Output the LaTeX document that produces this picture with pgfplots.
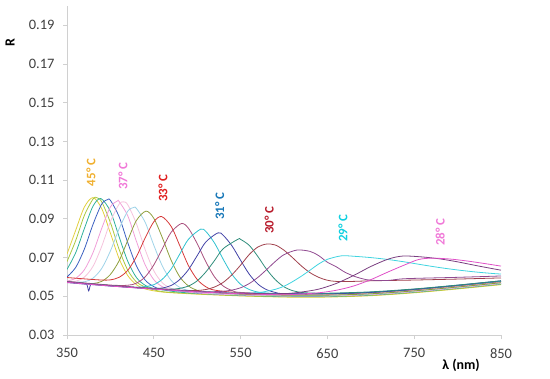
\documentclass[border=0pt]{standalone}
\usepackage{fontspec}
\setmainfont{Carlito}
\usepackage{pgfplots}
\pgfplotsset{compat=1.18}
\definecolor{c1}{HTML}{E2CF3E}
\definecolor{c2}{HTML}{A9C83F}
\definecolor{c3}{HTML}{2FB09C}
\definecolor{c4}{HTML}{3A5FC0}
\definecolor{c5}{HTML}{F09ED8}
\definecolor{c6}{HTML}{F5C2DC}
\definecolor{c7}{HTML}{9ED3E8}
\definecolor{c8}{HTML}{8E9E3C}
\definecolor{c9}{HTML}{D63A3A}
\definecolor{c10}{HTML}{A8507E}
\definecolor{c11}{HTML}{30C2D0}
\definecolor{c12}{HTML}{4242A6}
\definecolor{c13}{HTML}{2E8C7A}
\definecolor{c14}{HTML}{A0404C}
\definecolor{c15}{HTML}{904A90}
\definecolor{c16}{HTML}{40D4E0}
\definecolor{c17}{HTML}{7A3E80}
\definecolor{c18}{HTML}{E050C8}
\definecolor{l45}{HTML}{F0B030}
\definecolor{l37}{HTML}{F07AD8}
\definecolor{l33}{HTML}{E02020}
\definecolor{l31}{HTML}{1878B8}
\definecolor{l30}{HTML}{B81C2C}
\definecolor{l29}{HTML}{10D0E0}
\definecolor{l28}{HTML}{F07AD8}
\definecolor{axgray}{HTML}{D0D0D0}
\definecolor{txt}{HTML}{404040}
\begin{document}
\begin{tikzpicture}
\useasboundingbox (-67bp,-44bp) rectangle (483bp,335bp);
\begin{axis}[
  at={(0,0)}, anchor=south west,
  scale only axis, width=434bp, height=329bp,
  xmin=350, xmax=850, ymin=0.03, ymax=0.2,
  xtick={350,450,550,650,750,850},
  ytick={0.03,0.05,0.07,0.09,0.11,0.13,0.15,0.17,0.19},
  axis lines*=left,
  axis line style={draw=axgray, line width=0.9pt},
  tick style={draw=axgray, line width=0.9pt},
  tick align=outside, major tick length=4bp,
  /pgf/number format/assume math mode=true,
  ticklabel style={font=\fontsize{14.5}{16}\selectfont, text=txt},
  yticklabel style={xshift=-5bp, /pgf/number format/.cd, fixed, fixed zerofill, precision=2},
  xticklabel style={yshift=-6bp, /pgf/number format/.cd, fixed, precision=0, 1000 sep={}},
  xlabel={\bfseries λ (nm)},
  ylabel={\bfseries R},
  xlabel style={at={(axis description cs:0.908,-0.091)}, anchor=center, font=\fontsize{14}{16}\selectfont, text=black},
  ylabel style={at={(axis description cs:-0.131,0.89)}, anchor=center, font=\fontsize{14}{16}\selectfont, text=black},
  every axis plot/.append style={no markers, smooth, line width=0.8pt},
  clip=true,
]
% 1
\addplot[c1] coordinates {(350,0.0718)(360,0.0841)(370,0.0961)(380,0.1010)(390,0.0953)(400,0.0826)(410,0.0695)(420,0.0607)(430,0.0560)(440,0.0538)(460,0.0522)(500,0.0511)(550,0.0502)(600,0.0496)(650,0.0496)(700,0.0503)(750,0.0518)(800,0.0538)(850,0.0560)};
% 2
\addplot[c2] coordinates {(350,0.0679)(360,0.0788)(370,0.0918)(380,0.1003)(384,0.1010)(390,0.0988)(400,0.0881)(410,0.0743)(420,0.0635)(430,0.0574)(440,0.0549)(460,0.0524)(500,0.0513)(550,0.0503)(600,0.0498)(650,0.0498)(700,0.0505)(750,0.0520)(800,0.0540)(850,0.0562)};
% 3
\addplot[c3] coordinates {(350,0.0639)(360,0.0725)(370,0.0850)(380,0.0966)(389,0.1005)(400,0.0939)(410,0.0808)(420,0.0681)(430,0.0597)(440,0.0557)(450,0.0541)(480,0.0521)(520,0.0511)(560,0.0504)(600,0.0500)(650,0.0500)(700,0.0507)(750,0.0522)(800,0.0542)(850,0.0564)};
% 4
\addplot[c4] coordinates {(350,0.0600)(360,0.0649)(370,0.0744)(380,0.0872)(390,0.0977)(397,0.1000)(400,0.0996)(410,0.0912)(420,0.0777)(430,0.0657)(440,0.0584)(450,0.0550)(460,0.0537)(500,0.0519)(550,0.0509)(600,0.0504)(650,0.0504)(700,0.0511)(750,0.0526)(800,0.0546)(850,0.0568)};
% 5
\addplot[c5] coordinates {(350,0.0579)(360,0.0593)(370,0.0637)(380,0.0726)(390,0.0851)(400,0.0962)(408,0.0992)(410,0.0990)(420,0.0916)(430,0.0784)(440,0.0663)(450,0.0586)(460,0.0549)(470,0.0535)(500,0.0517)(550,0.0507)(600,0.0502)(650,0.0502)(700,0.0509)(750,0.0524)(800,0.0544)(850,0.0566)};
% 6
\addplot[c6] coordinates {(350,0.0574)(360,0.0578)(370,0.0599)(380,0.0655)(390,0.0758)(400,0.0886)(410,0.0976)(415,0.0988)(420,0.0973)(430,0.0875)(440,0.0742)(450,0.0632)(460,0.0569)(470,0.0541)(480,0.0531)(520,0.0514)(560,0.0507)(600,0.0503)(650,0.0503)(700,0.0510)(750,0.0525)(800,0.0545)(850,0.0567)};
% 7
\addplot[c7] coordinates {(350,0.0573)(370,0.0575)(380,0.0594)(390,0.0644)(400,0.0734)(410,0.0848)(420,0.0940)(427,0.0959)(430,0.0954)(440,0.0883)(450,0.0764)(460,0.0655)(470,0.0582)(480,0.0546)(490,0.0531)(520,0.0516)(560,0.0509)(600,0.0505)(650,0.0505)(700,0.0512)(750,0.0527)(800,0.0547)(850,0.0569)};
% 8
\addplot[c8] coordinates {(350,0.0574)(370,0.0566)(380,0.0566)(390,0.0577)(400,0.0613)(410,0.0683)(420,0.0789)(430,0.0892)(441,0.0940)(450,0.0903)(460,0.0801)(470,0.0686)(480,0.0600)(490,0.0553)(500,0.0531)(510,0.0523)(550,0.0511)(600,0.0506)(650,0.0506)(700,0.0513)(750,0.0528)(800,0.0548)(850,0.0570)};
% 9
\addplot[c9] coordinates {(350,0.0597)(370,0.0590)(390,0.0584)(400,0.0585)(410,0.0598)(420,0.0634)(430,0.0705)(440,0.0801)(450,0.0885)(459,0.0912)(470,0.0861)(480,0.0761)(490,0.0658)(500,0.0587)(510,0.0549)(520,0.0532)(550,0.0518)(600,0.0512)(650,0.0512)(700,0.0519)(750,0.0534)(800,0.0554)(850,0.0576)};
% 10
\addplot[c10] coordinates {(350,0.0577)(400,0.0558)(420,0.0557)(430,0.0568)(440,0.0600)(450,0.0662)(460,0.0747)(470,0.0831)(482,0.0876)(490,0.0851)(500,0.0772)(510,0.0678)(520,0.0600)(530,0.0553)(540,0.0530)(550,0.0520)(600,0.0512)(650,0.0513)(700,0.0520)(750,0.0535)(800,0.0555)(850,0.0577)};
% 11
\addplot[c11] coordinates {(350,0.0575)(400,0.0556)(420,0.0549)(430,0.0547)(440,0.0550)(450,0.0560)(460,0.0589)(470,0.0641)(480,0.0719)(490,0.0795)(504,0.0847)(510,0.0835)(520,0.0775)(530,0.0691)(540,0.0614)(550,0.0562)(560,0.0535)(570,0.0522)(580,0.0517)(600,0.0514)(650,0.0514)(700,0.0521)(750,0.0536)(800,0.0556)(850,0.0578)};
% 12
\addplot[c12] coordinates {(350,0.0571)(370,0.0563)(373,0.0560)(375,0.0528)(377,0.0558)(380,0.0560)(400,0.0553)(440,0.0541)(450,0.0540)(460,0.0543)(470,0.0556)(480,0.0587)(490,0.0638)(500,0.0710)(510,0.0781)(524,0.0828)(530,0.0815)(540,0.0761)(550,0.0686)(560,0.0614)(570,0.0563)(580,0.0534)(590,0.0520)(600,0.0514)(650,0.0513)(700,0.0520)(750,0.0536)(800,0.0557)(850,0.0580)};
% 13
\addplot[c13] coordinates {(350,0.0574)(400,0.0555)(450,0.0539)(470,0.0537)(480,0.0541)(490,0.0553)(500,0.0580)(510,0.0626)(520,0.0685)(530,0.0746)(547,0.0795)(550,0.0794)(560,0.0763)(570,0.0705)(580,0.0639)(590,0.0586)(600,0.0549)(610,0.0529)(620,0.0520)(630,0.0517)(650,0.0516)(700,0.0523)(750,0.0538)(800,0.0558)(850,0.0580)};
% 14
\addplot[c14] coordinates {(350,0.0575)(400,0.0556)(450,0.0540)(470,0.0534)(490,0.0530)(500,0.0530)(510,0.0535)(520,0.0548)(530,0.0572)(540,0.0611)(550,0.0661)(560,0.0716)(570,0.0755)(580,0.0770)(590,0.0765)(600,0.0738)(610,0.0699)(620,0.0657)(630,0.0622)(640,0.0598)(650,0.0583)(660,0.0577)(680,0.0577)(700,0.0580)(750,0.0584)(800,0.0589)(850,0.0595)};
% 15
\addplot[c15] coordinates {(350,0.0574)(400,0.0555)(450,0.0539)(500,0.0525)(520,0.0524)(530,0.0526)(540,0.0532)(550,0.0544)(560,0.0566)(570,0.0598)(580,0.0638)(590,0.0680)(600,0.0715)(615,0.0739)(630,0.0732)(640,0.0710)(650,0.0676)(660,0.0653)(670,0.0625)(680,0.0605)(690,0.0591)(700,0.0583)(720,0.0582)(740,0.0591)(800,0.0598)(850,0.0605)};
% 16
\addplot[c16] coordinates {(350,0.0573)(400,0.0554)(450,0.0538)(500,0.0524)(550,0.0516)(570,0.0519)(580,0.0526)(590,0.0536)(600,0.0552)(610,0.0576)(620,0.0604)(630,0.0635)(640,0.0667)(650,0.0691)(666,0.0709)(680,0.0707)(700,0.0700)(720,0.0690)(740,0.0677)(760,0.0662)(780,0.0648)(800,0.0636)(820,0.0626)(840,0.0618)(850,0.0615)};
% 17
\addplot[c17] coordinates {(350,0.0574)(400,0.0555)(450,0.0539)(500,0.0525)(550,0.0515)(600,0.0514)(620,0.0522)(640,0.0537)(660,0.0566)(680,0.0607)(700,0.0654)(720,0.0692)(737,0.0708)(760,0.0703)(780,0.0693)(800,0.0678)(820,0.0660)(840,0.0643)(850,0.0635)};
% 18
\addplot[c18] coordinates {(350,0.0572)(400,0.0553)(450,0.0537)(500,0.0523)(550,0.0513)(600,0.0508)(620,0.0512)(640,0.0518)(660,0.0531)(680,0.0553)(700,0.0586)(720,0.0626)(740,0.0664)(755,0.0690)(770,0.0697)(790,0.0693)(810,0.0683)(830,0.0670)(850,0.0656)};
% labels
\node[rotate=90, text=l45, font=\fontsize{13}{15}\selectfont\bfseries] at (axis cs:377.6,0.114) {45° C};
\node[rotate=90, text=l37, font=\fontsize{13}{15}\selectfont\bfseries] at (axis cs:414.5,0.112) {37° C};
\node[rotate=90, text=l33, font=\fontsize{13}{15}\selectfont\bfseries] at (axis cs:460.6,0.1059) {33° C};
\node[rotate=90, text=l31, font=\fontsize{13}{15}\selectfont\bfseries] at (axis cs:526,0.0966) {31° C};
\node[rotate=90, text=l30, font=\fontsize{13}{15}\selectfont\bfseries] at (axis cs:583,0.0894) {30° C};
\node[rotate=90, text=l29, font=\fontsize{13}{15}\selectfont\bfseries] at (axis cs:668,0.0852) {29° C};
\node[rotate=90, text=l28, font=\fontsize{13}{15}\selectfont\bfseries] at (axis cs:780,0.0832) {28° C};
\end{axis}
\end{tikzpicture}
\end{document}
